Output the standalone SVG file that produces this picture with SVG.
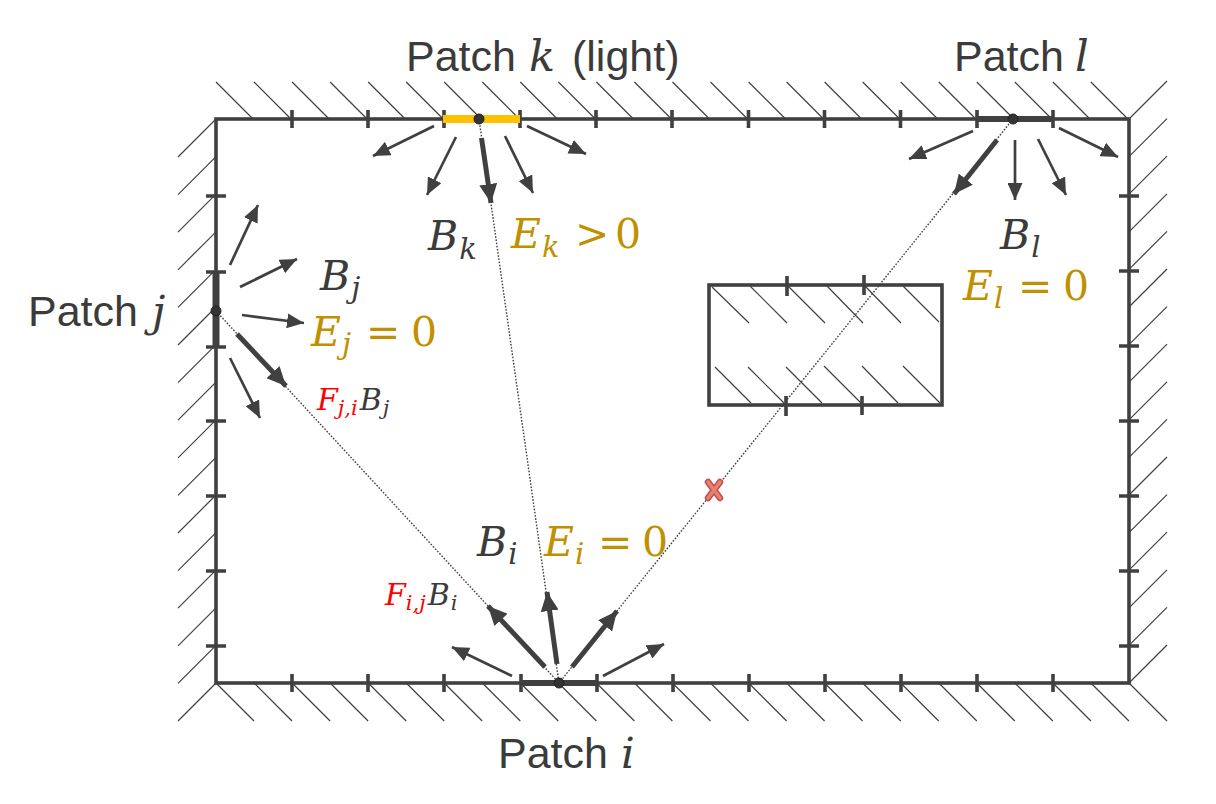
<svg xmlns="http://www.w3.org/2000/svg" width="1216" height="804" viewBox="0 0 1216 804">
<style>
.wall{fill:none;stroke:#404040;stroke-width:3.6}
.tick{fill:none;stroke:#404040;stroke-width:3.6}
.hatch{fill:none;stroke:#404040;stroke-width:1.2}
.ray{fill:none;stroke:#404040;stroke-width:1.4;stroke-dasharray:1.6 1.6}
.a{fill:none;stroke:#404040;stroke-width:2.7;marker-end:url(#h1)}
.A{fill:none;stroke:#404040;stroke-width:5;marker-end:url(#h2)}
.dot{fill:#333333;stroke:#222222;stroke-width:1}
.lbl{font-family:"Liberation Sans",Arial,sans-serif;font-size:43px;fill:#3b3b3b}
.mi{font-family:"DejaVu Serif","Liberation Serif",serif;font-style:italic}
.mn{font-family:"DejaVu Serif","Liberation Serif",serif;font-style:normal}
.math{font-family:"DejaVu Serif","Liberation Serif",serif;font-size:41px;fill:#3b3b3b}
.sub{font-size:29px}
.gold{fill:#BF9000}
.red{fill:#FF0000}
.dk{fill:#3b3b3b}
.small{font-size:30px}
.ssub{font-size:21px}
</style>
<defs>
<marker id="h1" markerUnits="userSpaceOnUse" viewBox="0 0 17 15" refX="17" refY="7.5" markerWidth="17" markerHeight="15" orient="auto">
<path d="M0,0 L17,7.5 L0,15 z" fill="#404040"/>
</marker>
<marker id="h2" markerUnits="userSpaceOnUse" viewBox="0 0 19 18" refX="19" refY="9" markerWidth="19" markerHeight="18" orient="auto">
<path d="M0,0 L19,9 L0,18 z" fill="#404040"/>
</marker>
</defs>

<g id="walls">
<path class="hatch" d="M216,82l37,37 M254,82l37,37 M292.1,82l37,37 M330.1,82l37,37 M368.2,82l37,37 M406.2,82l37,37 M444.2,82l37,37 M482.3,82l37,37 M520.3,82l37,37 M558.4,82l37,37 M596.4,82l37,37 M634.4,82l37,37 M672.5,82l37,37 M710.5,82l37,37 M748.6,82l37,37 M786.6,82l37,37 M824.6,82l37,37 M862.7,82l37,37 M900.7,82l37,37 M938.8,82l37,37 M976.8,82l37,37 M1014.8,82l37,37 M1052.9,82l37,37 M1090.9,82l37,37"/>
<path class="hatch" d="M216,683l38,38 M254,683l38,38 M292.1,683l38,38 M330.1,683l38,38 M368.2,683l38,38 M406.2,683l38,38 M444.2,683l38,38 M482.3,683l38,38 M520.3,683l38,38 M558.4,683l38,38 M596.4,683l38,38 M634.4,683l38,38 M672.5,683l38,38 M710.5,683l38,38 M748.6,683l38,38 M786.6,683l38,38 M824.6,683l38,38 M862.7,683l38,38 M900.7,683l38,38 M938.8,683l38,38 M976.8,683l38,38 M1014.8,683l38,38 M1052.9,683l38,38 M1090.9,683l38,38 M1129,683l38,38"/>
<path class="hatch" d="M216,119l-38,38 M216,156.6l-38,38 M216,194.2l-38,38 M216,231.8l-38,38 M216,269.4l-38,38 M216,307l-38,38 M216,344.6l-38,38 M216,382.2l-38,38 M216,419.8l-38,38 M216,457.4l-38,38 M216,495l-38,38 M216,532.6l-38,38 M216,570.2l-38,38 M216,607.8l-38,38 M216,645.4l-38,38 M216,683l-38,38"/>
<path class="hatch" d="M1129,119l38,-38 M1129,156.6l38,-38 M1129,194.2l38,-38 M1129,231.8l38,-38 M1129,269.4l38,-38 M1129,307l38,-38 M1129,344.6l38,-38 M1129,382.2l38,-38 M1129,419.8l38,-38 M1129,457.4l38,-38 M1129,495l38,-38 M1129,532.6l38,-38 M1129,570.2l38,-38 M1129,607.8l38,-38 M1129,645.4l38,-38 M1129,683l38,-38"/>
<rect class="wall" x="216" y="119" width="913" height="564"/>
<path class="tick" d="M292,110v18 M368,110v18 M444,110v18 M520,110v18 M596,110v18 M672,110v18 M748.5,110v18 M824.5,110v18 M900.5,110v18 M977,110v18 M1053,110v18"/>
<path class="tick" d="M292,674v18 M368,674v18 M444,674v18 M521,674v18 M597,674v18 M673,674v18 M749,674v18 M825,674v18 M901,674v18 M977,674v18 M1053,674v18"/>
<path class="tick" d="M206,196h20 M206,272h20 M206,347h20 M206,421h20 M206,496h20 M206,571h20 M206,646h20"/>
<path class="tick" d="M1119,196h20 M1119,271h20 M1119,346h20 M1119,421h20 M1119,496h20 M1119,571h20 M1119,646h20"/>
</g>

<g id="obstacle">
<path class="hatch" d="M712,287l37,36 M750,286l37,37 M788,286l37,37 M827,286l36,37 M865,286l36,37 M903,286l36,36"/>
<path class="hatch" d="M715,367l36,36 M748,367l36,36 M786,367l36,36 M824,366l37,37 M862,366l36,37 M903,366l37,37"/>
<rect class="wall" x="709" y="285" width="233" height="120"/>
<path class="tick" d="M787,276v20 M864,275v20 M786,396v20 M862,396v19"/>
</g>

<g id="connectors">
<path class="ray" d="M479,119 L559,683"/>
<path class="ray" d="M216,311 L559,683"/>
<path class="ray" d="M1013,119 L559,683"/>
</g>

<g id="patch-k">
<path d="M443,119 H520" stroke="#FFC000" stroke-width="8"/>
<path class="a" d="M434,126 L373,156"/>
<path class="a" d="M456,137 L427,195"/>
<path class="A" d="M481.5,138 L491,203"/>
<path class="a" d="M505,136 L533,193"/>
<path class="a" d="M527,126 L586,154"/>
<circle class="dot" cx="479" cy="119" r="5"/>
<text class="lbl" x="406" y="71">Patch <tspan class="mi" x="529">k</tspan><tspan x="572">(light)</tspan></text>
<text class="math" x="428" y="250"><tspan class="mi">B</tspan><tspan class="mi sub" dy="9" dx="1">k</tspan></text>
<text class="math gold" x="511" y="248"><tspan class="mi">E</tspan><tspan class="mi sub" dy="9" dx="1">k</tspan><tspan class="mn" x="575" dy="-9">&gt;</tspan><tspan class="mn" x="615">0</tspan></text>
</g>

<g id="patch-l">
<path d="M977,119 H1052" stroke="#404040" stroke-width="6"/>
<path class="a" d="M973,131 L909,159"/>
<path class="A" d="M997,140 L954,194"/>
<path class="a" d="M1015,140 L1015,200"/>
<path class="a" d="M1038,139 L1066,195"/>
<path class="a" d="M1059,128 L1118,157"/>
<circle class="dot" cx="1013" cy="119" r="5"/>
<text class="lbl" x="954" y="71">Patch <tspan class="mi" x="1075">l</tspan></text>
<text class="math" x="1000" y="249"><tspan class="mi">B</tspan><tspan class="mi sub" dy="8" dx="1">l</tspan></text>
<text class="math gold" x="963" y="300"><tspan class="mi">E</tspan><tspan class="mi sub" dy="8" dx="1">l</tspan><tspan class="mn" x="1018" dy="-8">=</tspan><tspan class="mn" x="1063">0</tspan></text>
</g>

<g id="patch-j">
<path d="M216,273 V348" stroke="#404040" stroke-width="7"/>
<path class="a" d="M230,265 L258,205"/>
<path class="a" d="M240,287 L297,259"/>
<path class="a" d="M242,315 L304,323"/>
<path class="A" d="M237,334 L286,386"/>
<path class="a" d="M230,358 L260,418"/>
<circle class="dot" cx="216" cy="311" r="5"/>
<text class="lbl" x="28" y="326">Patch <tspan class="mi" x="152">j</tspan></text>
<text class="math" x="320" y="290"><tspan class="mi">B</tspan><tspan class="mi sub" dy="8" dx="1">j</tspan></text>
<text class="math gold" x="311" y="346"><tspan class="mi">E</tspan><tspan class="mi sub" dy="8" dx="1">j</tspan><tspan class="mn" x="366" dy="-8">=</tspan><tspan class="mn" x="411">0</tspan></text>
<text class="math small" x="317" y="410"><tspan class="mi red">F</tspan><tspan class="mi red ssub" dy="5" dx="0">j,i</tspan><tspan class="mi dk" dy="-5" dx="2">B</tspan><tspan class="mi dk ssub" dy="5" dx="1">j</tspan></text>
</g>

<g id="patch-i">
<path d="M521,683 H597" stroke="#404040" stroke-width="6"/>
<path class="a" d="M512,676 L452,647"/>
<path class="A" d="M545,667 L488,606"/>
<path class="A" d="M557,664 L547,592"/>
<path class="A" d="M572,667 L617,611"/>
<path class="a" d="M603,676 L664,644"/>
<circle class="dot" cx="559" cy="683" r="5"/>
<text class="lbl" x="498" y="768">Patch <tspan class="mi" x="621">i</tspan></text>
<text class="math" x="477" y="556"><tspan class="mi">B</tspan><tspan class="mi sub" dy="8" dx="1">i</tspan></text>
<text class="math gold" x="544" y="556"><tspan class="mi">E</tspan><tspan class="mi sub" dy="8" dx="1">i</tspan><tspan class="mn" x="598" dy="-8">=</tspan><tspan class="mn" x="642">0</tspan></text>
<text class="math small" x="385" y="605"><tspan class="mi red">F</tspan><tspan class="mi red ssub" dy="5" dx="0">i,j</tspan><tspan class="mi dk" dy="-5" dx="2">B</tspan><tspan class="mi dk ssub" dy="5" dx="1">i</tspan></text>
</g>

<g id="blocked">
<path d="M708,482 L720,498 M720,482 L708,498" stroke="#C0504D" stroke-width="6.5" stroke-linecap="round"/>
<path d="M708,482 L720,498 M720,482 L708,498" stroke="#E8806F" stroke-width="3.5" stroke-linecap="round"/>
</g>
</svg>
